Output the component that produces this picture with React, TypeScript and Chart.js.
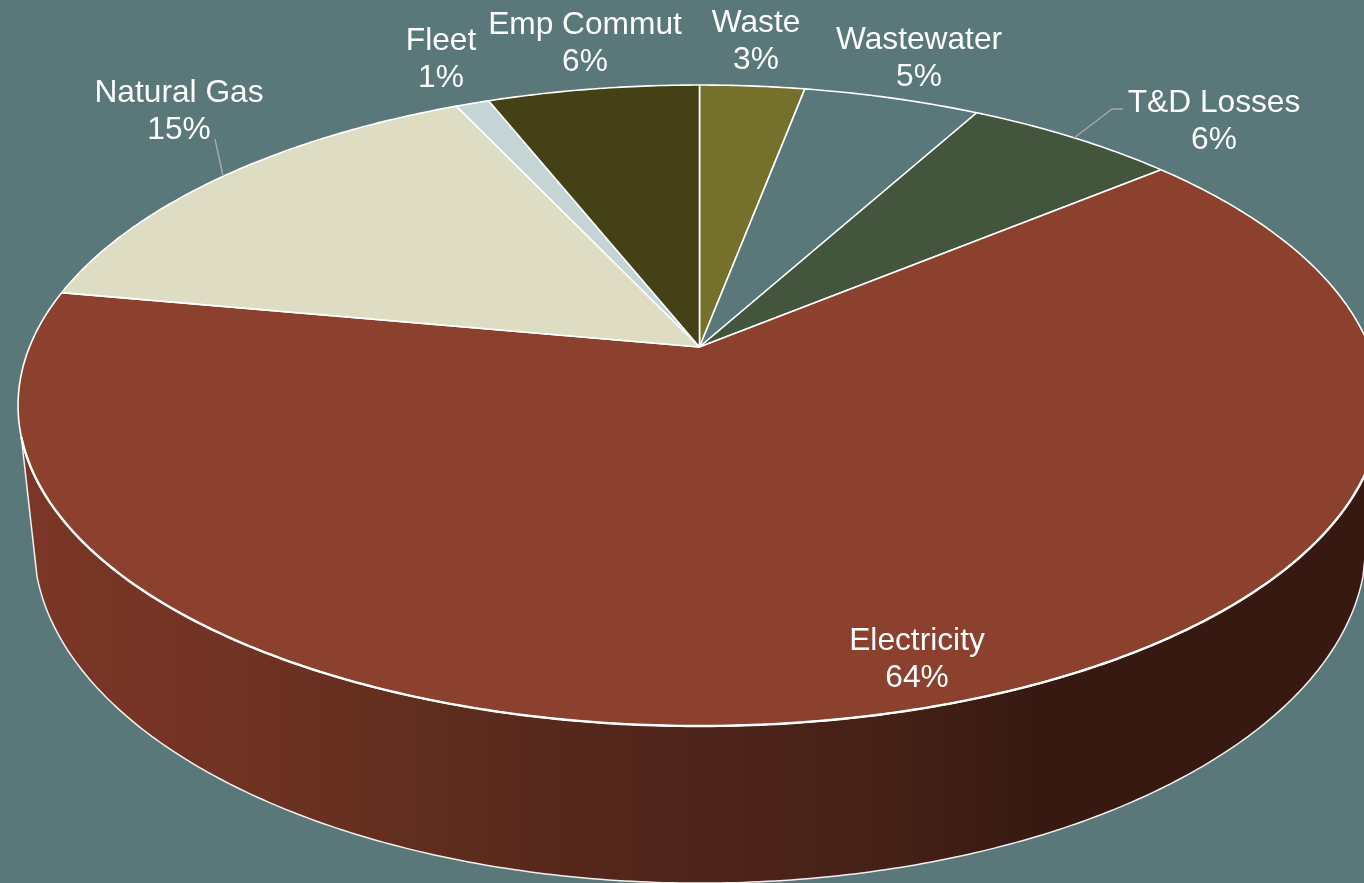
import React, { useEffect, useRef } from "react";
import { Chart, registerables } from "chart.js";

Chart.register(...registerables);

const categories = ["Waste", "Wastewater", "T&D Losses", "Electricity", "Natural Gas", "Fleet", "Emp Commut"];
const shares = [2.97, 5.0, 6.0, 63.93, 15.15, 0.95, 6.0];
const sliceColors = ["#76702D", "#5A7779", "#44553D", "#8B412E", "#DEDCC2", "#C5D5D6", "#454117"];

const BG = "#5A7779";
const WIDTH = 1364;
const HEIGHT = 883;

// Perspective tilt of the disc, top face and underside
const TOP = { cx: 699.5, cy: 347, rx: 670, ry: 309.8, p: 0.1826 };
const BOTTOM = { cx: 700, cy: 481, rx: 655, ry: 328.7, p: 0.1826 };
const WALL_FROM = (106 * Math.PI) / 180;
const WALL_TO = (254 * Math.PI) / 180;

// Layout of the labels (centre x, centre y of first line), same order as categories
const labelCentres: [number, number][] = [
  [756, 23], [919, 40], [1214, 103], [917, 641], [179, 93], [441, 41], [585, 25],
];
const LINE_GAP = 37.5;
const leaders: [number, number][][] = [
  [[215, 139], [223, 176]],
  [[1123, 109], [1112, 109], [1074, 138]],
];
const wallStops: [number, string][] = [
  [37, "rgb(122,54,38)"], [220, "rgb(114,51,36)"], [400, "rgb(98,46,31)"], [560, "rgb(86,40,27)"],
  [715, "rgb(78,36,27)"], [900, "rgb(68,32,22)"], [1040, "rgb(55,25,17)"], [1364, "rgb(55,25,17)"],
];

type Proj = typeof TOP;
const project = (m: Proj, theta: number): [number, number] => {
  const u = Math.sin(theta);
  const v = Math.cos(theta);
  const w = 1 + m.p * v;
  return [m.cx + (m.rx * u) / w, m.cy - (m.ry * v) / w];
};

const traceArc = (ctx: CanvasRenderingContext2D, m: Proj, a: number, b: number, first: boolean) => {
  const steps = Math.max(2, Math.ceil(Math.abs(b - a) / 0.01));
  for (let i = 0; i <= steps; i++) {
    const [x, y] = project(m, a + ((b - a) * i) / steps);
    if (i === 0 && first) ctx.moveTo(x, y);
    else ctx.lineTo(x, y);
  }
};

const disc3d = {
  id: "disc3d",
  beforeDraw(chart: any) {
    const ctx = chart.ctx as CanvasRenderingContext2D;
    ctx.save();
    ctx.fillStyle = BG;
    ctx.fillRect(0, 0, chart.width, chart.height);
    ctx.restore();
  },
  beforeDatasetsDraw(chart: any) {
    const ctx = chart.ctx as CanvasRenderingContext2D;
    const arcs = chart.getDatasetMeta(0).data;
    const angles = arcs.map((a: any) => [a.startAngle + Math.PI / 2, a.endAngle + Math.PI / 2]);
    const colors = chart.data.datasets[0].backgroundColor as string[];

    ctx.save();
    ctx.lineJoin = "round";

    // Side wall
    angles.forEach(([s, e]: number[]) => {
      const a = Math.max(s, WALL_FROM);
      const b = Math.min(e, WALL_TO);
      if (b <= a) return;
      const grad = ctx.createLinearGradient(0, 0, WIDTH, 0);
      wallStops.forEach(([x, c]) => grad.addColorStop(x / WIDTH, c));
      ctx.beginPath();
      traceArc(ctx, TOP, a, b, true);
      traceArc(ctx, BOTTOM, b, a, false);
      ctx.closePath();
      ctx.fillStyle = grad;
      ctx.fill();
      ctx.strokeStyle = "#f2f2f2";
      ctx.lineWidth = 1.5;
      ctx.stroke();
    });

    // Top face
    angles.forEach(([s, e]: number[], i: number) => {
      ctx.beginPath();
      ctx.moveTo(TOP.cx, TOP.cy);
      traceArc(ctx, TOP, s, e, false);
      ctx.closePath();
      ctx.fillStyle = colors[i];
      ctx.fill();
      ctx.strokeStyle = "#ffffff";
      ctx.lineWidth = 1.6;
      ctx.stroke();
    });

    // Rim at the front reads heavier
    angles.forEach(([s, e]: number[]) => {
      const a = Math.max(s, WALL_FROM);
      const b = Math.min(e, WALL_TO);
      if (b <= a) return;
      ctx.beginPath();
      traceArc(ctx, TOP, a, b, true);
      ctx.strokeStyle = "#ffffff";
      ctx.lineWidth = 2.4;
      ctx.stroke();
    });

    // Leader lines
    ctx.strokeStyle = "#A6A6A6";
    ctx.lineWidth = 1.5;
    leaders.forEach((pts) => {
      ctx.beginPath();
      pts.forEach(([x, y], i) => (i ? ctx.lineTo(x, y) : ctx.moveTo(x, y)));
      ctx.stroke();
    });

    // Labels
    const values = chart.data.datasets[0].data as number[];
    ctx.fillStyle = "#ffffff";
    ctx.font = "31.7px 'Liberation Sans', Arial, sans-serif";
    ctx.textAlign = "center";
    ctx.textBaseline = "middle";
    (chart.data.labels as string[]).forEach((name, i) => {
      const [x, y] = labelCentres[i];
      ctx.fillText(name, x, y);
      ctx.fillText(`${Math.round(values[i])}%`, x, y + LINE_GAP);
    });
    ctx.restore();
    return false;
  },
};

export default function App() {
  const ref = useRef<HTMLCanvasElement>(null);
  useEffect(() => {
    document.body.style.margin = "0";
    document.body.style.background = BG;
    const chart = new Chart(ref.current as HTMLCanvasElement, {
      type: "pie",
      data: {
        labels: categories,
        datasets: [{ data: shares, backgroundColor: sliceColors, borderColor: "#ffffff", borderWidth: 1.5 }],
      },
      options: {
        animation: false,
        responsive: false,
        devicePixelRatio: 1,
        rotation: 0,
        circumference: 360,
        plugins: { legend: { display: false }, tooltip: { enabled: false }, title: { display: false } },
      },
      plugins: [disc3d],
    } as any);
    return () => chart.destroy();
  }, []);
  return <canvas ref={ref} width={WIDTH} height={HEIGHT} style={{ display: "block", width: WIDTH, height: HEIGHT }} />;
}
